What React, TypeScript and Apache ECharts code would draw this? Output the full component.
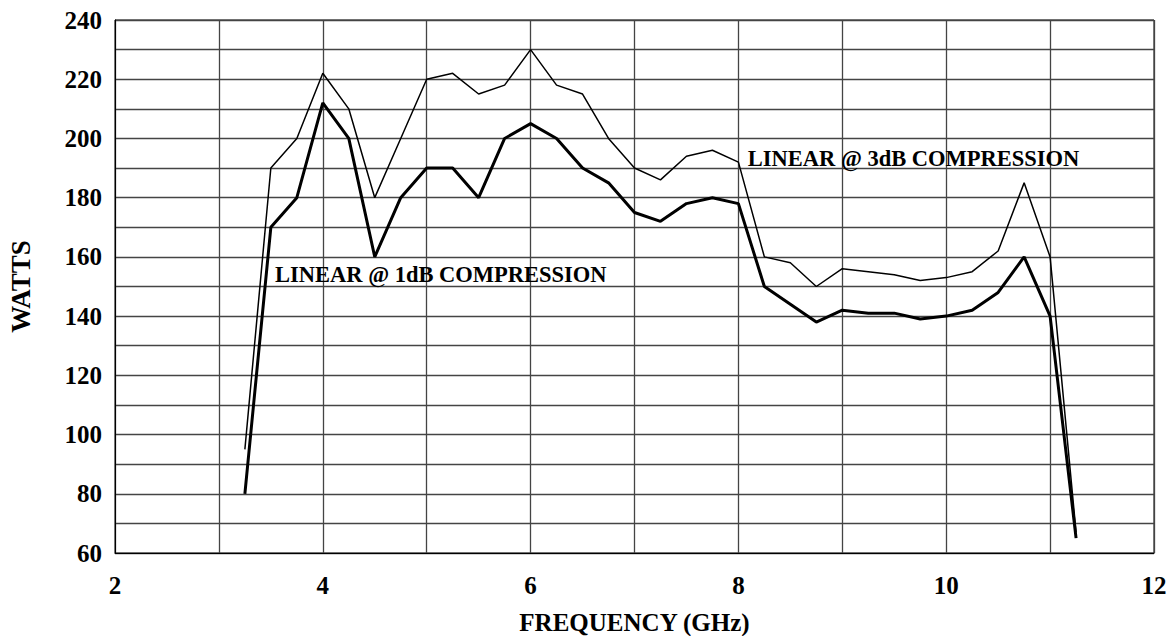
import React, { useEffect, useRef } from "react";
import * as echarts from "echarts";

const frequencies = [
  3.25, 3.5, 3.75, 4, 4.25, 4.5, 4.75, 5, 5.25, 5.5, 5.75, 6, 6.25, 6.5, 6.75, 7, 7.25,
  7.5, 7.75, 8, 8.25, 8.5, 8.75, 9, 9.25, 9.5, 9.75, 10, 10.25, 10.5, 10.75, 11, 11.25,
];
const watts3dB = [
  95, 190, 200, 222, 210, 180, 200, 220, 222, 215, 218, 230, 218, 215, 200, 190, 186,
  194, 196, 192, 160, 158, 150, 156, 155, 154, 152, 153, 155, 162, 185, 160, 67,
];
const watts1dB = [
  80, 170, 180, 212, 200, 160, 180, 190, 190, 180, 200, 205, 200, 190, 185, 175, 172,
  178, 180, 178, 150, 144, 138, 142, 141, 141, 139, 140, 142, 148, 160, 140, 65,
];
const label3dB = "LINEAR @ 3dB COMPRESSION";
const label1dB = "LINEAR @ 1dB COMPRESSION";
const xTitle = "FREQUENCY (GHz)";
const yTitle = "WATTS";

const FONT = "'Liberation Serif', 'Times New Roman', serif";

export default function App() {
  const ref = useRef<HTMLDivElement>(null);
  useEffect(() => {
    document.body.style.margin = "0";
    const chart = echarts.init(ref.current!, null, { renderer: "svg" });
    const pair = (ys: number[]) => frequencies.map((f, i) => [f, ys[i]]);
    const annot = (text: string) => ({
      show: true,
      position: "right",
      distance: 0,
      formatter: text,
      fontFamily: FONT,
      fontWeight: "bold",
      fontSize: 22.5,
      color: "#000",
    });
    chart.setOption({
      animation: false,
      backgroundColor: "#fff",
      grid: {
        left: 115,
        right: 14,
        top: 20,
        bottom: 83,
        containLabel: false,
        outerBoundsMode: "none",
        show: true,
        borderColor: "#000",
        borderWidth: 1,
      },
      xAxis: {
        type: "value",
        min: 2,
        max: 12,
        interval: 1,
        name: xTitle,
        nameLocation: "middle",
        nameGap: 57,
        nameTextStyle: { fontFamily: FONT, fontWeight: "bold", fontSize: 25, color: "#000" },
        axisLine: { show: true, lineStyle: { color: "#000", width: 1 } },
        axisTick: { show: false },
        axisLabel: {
          fontFamily: FONT,
          fontWeight: "bold",
          fontSize: 25,
          color: "#000",
          margin: 20,
          formatter: (v: number) => (v % 2 === 0 ? String(v) : ""),
        },
        splitLine: { show: true, lineStyle: { color: "#444", width: 1.3 } },
      },
      yAxis: {
        type: "value",
        min: 60,
        max: 240,
        interval: 10,
        name: yTitle,
        nameLocation: "middle",
        nameGap: 81,
        nameRotate: 90,
        nameTextStyle: { fontFamily: FONT, fontWeight: "bold", fontSize: 27, color: "#000" },
        axisLine: { show: true, lineStyle: { color: "#000", width: 1 } },
        axisTick: { show: false },
        axisLabel: {
          fontFamily: FONT,
          fontWeight: "bold",
          fontSize: 25,
          color: "#000",
          margin: 13,
          formatter: (v: number) => (v % 20 === 0 ? String(v) : ""),
        },
        splitLine: { show: true, lineStyle: { color: "#444", width: 1.3 } },
      },
      series: [
        {
          name: label3dB,
          type: "line",
          data: pair(watts3dB),
          showSymbol: false,
          lineStyle: { color: "#000", width: 1.5 },
          markPoint: {
            symbol: "circle",
            symbolSize: 0,
            data: [{ coord: [8.09, 193.3], label: annot(label3dB) }],
          },
        },
        {
          name: label1dB,
          type: "line",
          data: pair(watts1dB),
          showSymbol: false,
          lineStyle: { color: "#000", width: 3 },
          markPoint: {
            symbol: "circle",
            symbolSize: 0,
            data: [{ coord: [3.54, 154.0], label: annot(label1dB) }],
          },
        },
      ],
    });
    return () => chart.dispose();
  }, []);
  return <div ref={ref} style={{ width: 1168, height: 636 }} />;
}
